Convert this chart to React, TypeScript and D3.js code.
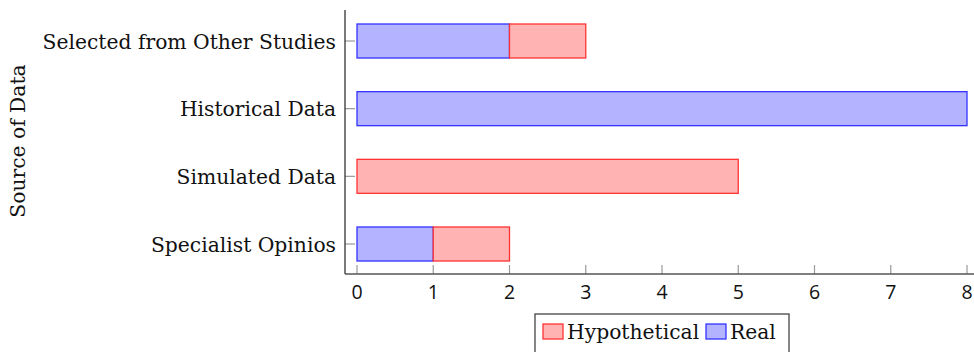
import React from "react";
import * as d3 from "d3";

const categories = ["Selected from Other Studies", "Historical Data", "Simulated Data", "Specialist Opinios"];
const realValues = [2, 8, 0, 1];
const hypotheticalValues = [1, 0, 5, 1];
const xTicks = [0, 1, 2, 3, 4, 5, 6, 7, 8];
const seriesNames = ["Real", "Hypothetical"];

const W = 974;
const H = 352;
const axisX = 345;
const axisY = 274;

export default function App() {
  const x = d3.scaleLinear().domain([0, 8]).range([357, 967]);
  const y = d3.scalePoint<string>().domain(categories).range([41, 244]);
  const barH = 34;
  const rows = categories.map((c, i) => ({ c, real: realValues[i], hyp: hypotheticalValues[i] }));
  const stack = d3.stack<any>().keys(["real", "hyp"])(rows as any);
  const fills = ["#b3b3ff", "#ffb3b3"];
  const strokes = ["#3333ff", "#ff3333"];
  const serif = "'DejaVu Serif', serif";
  const fs = 20.3;
  return (
    <svg width={W} height={H} style={{ position: "absolute", left: 0, top: 0 }} fontFamily={serif}>
      <rect width={W} height={H} fill="#fff" />
      {stack.map((s, si) =>
        s.map((d, i) => {
          const w = x(d[1]) - x(d[0]);
          if (w <= 0) return null;
          return (
            <rect key={si + "-" + i} x={x(d[0])} y={y(categories[i])! - barH / 2} width={w} height={barH}
              fill={fills[si]} stroke={strokes[si]} strokeWidth={1.3} />
          );
        })
      )}
      {categories.map((c) => (
        <g key={c}>
          <line x1={axisX} x2={355} y1={y(c)} y2={y(c)} stroke="#999" strokeWidth={1.2} />
          <text x={336} y={y(c)! + 7.5} textAnchor="end" fontSize={fs} fill="#111">{c}</text>
        </g>
      ))}
      {xTicks.map((t) => (
        <g key={t}>
          <line x1={x(t)} x2={x(t)} y1={axisY} y2={axisY - 9} stroke="#999" strokeWidth={1.2} />
          <text x={x(t)} y={299} textAnchor="middle" fontSize={19.5} fontFamily="'Open Sans', sans-serif" fill="#111">{t}</text>
        </g>
      ))}
      <line x1={axisX} x2={axisX} y1={10} y2={axisY} stroke="#333" strokeWidth={1.3} />
      <line x1={axisX} x2={W} y1={axisY} y2={axisY} stroke="#555" strokeWidth={1.3} />
      <text transform={`translate(25,141) rotate(-90)`} textAnchor="middle" fontSize={fs} fill="#111">Source of Data</text>
      <g>
        <rect x={535} y={314} width={254} height={45} fill="#fff" stroke="#444" strokeWidth={1.3} />
        <rect x={543} y={324} width={20} height={15} fill={fills[1]} stroke={strokes[1]} strokeWidth={1.3} />
        <text x={567} y={339} fontSize={fs} fill="#111">Hypothetical</text>
        <rect x={706} y={324} width={20} height={15} fill={fills[0]} stroke={strokes[0]} strokeWidth={1.3} />
        <text x={730} y={339} fontSize={fs} fill="#111">{seriesNames[0]}</text>
      </g>
    </svg>
  );
}
